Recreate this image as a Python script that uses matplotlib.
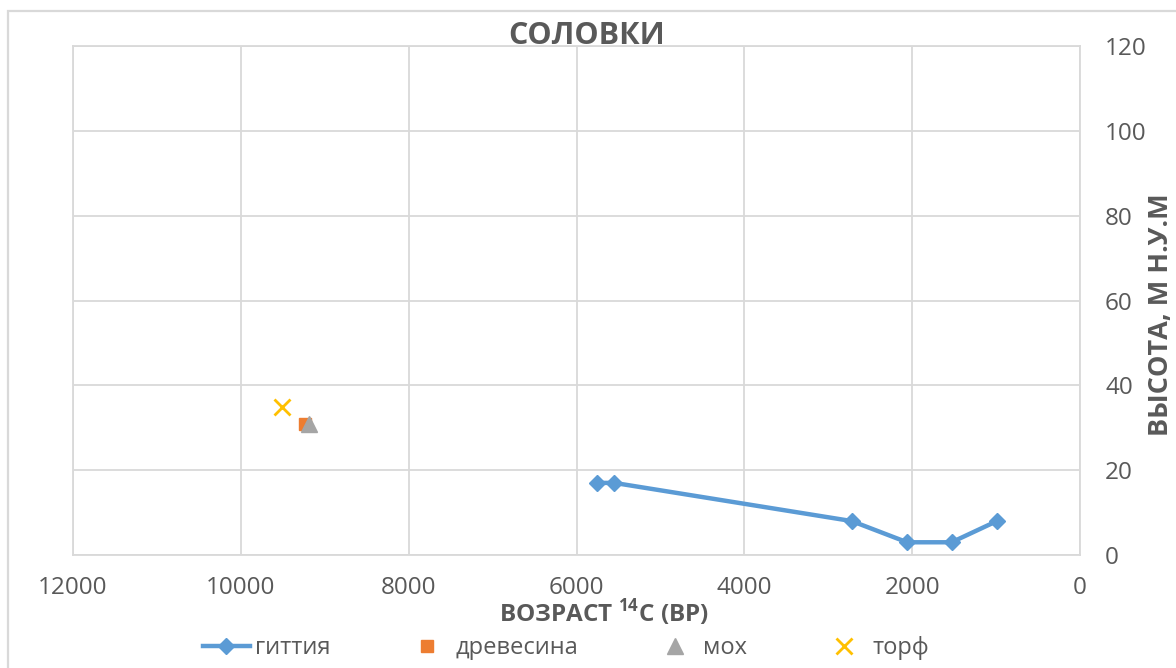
import matplotlib
matplotlib.use("Agg")
import matplotlib.pyplot as plt
from matplotlib.patches import Rectangle

# Radiocarbon ages (years BP) and elevations (m a.s.l.)
gyttja_age = [5760, 5550, 2720, 2060, 1530, 990]
gyttja_elev = [17, 17, 8, 3, 3, 8]
wood_age = [9230]
wood_elev = [31]
moss_age = [9190]
moss_elev = [31]
peat_age = [9510]
peat_elev = [35]

series_labels = ["гиттия", "древесина", "мох", "торф"]
x_ticks = [12000, 10000, 8000, 6000, 4000, 2000, 0]
y_ticks = [0, 20, 40, 60, 80, 100, 120]

TEXT = "#595959"
GRID = "#d9d9d9"
FONT = ["Open Sans", "DejaVu Sans"]

plt.rcParams["font.family"] = FONT
plt.rcParams["mathtext.fontset"] = "custom"
plt.rcParams["mathtext.rm"] = "Open Sans:bold"
plt.rcParams["mathtext.bf"] = "Open Sans:bold"

W, H = 1176, 668
fig = plt.figure(figsize=(W / 100, H / 100), dpi=100)

# chart-area frame
fig.add_artist(Rectangle((8 / W, -0.05), 1.2, 1 - 11 / H + 0.05,
                         transform=fig.transFigure, fill=False,
                         edgecolor=GRID, linewidth=1.6))

left, right, top, bottom = 73, 1080, 46, 555
ax = fig.add_axes([left / W, 1 - bottom / H, (right - left) / W, (bottom - top) / H])

ax.set_xlim(12000, 0)
ax.set_ylim(0, 120)
ax.set_xticks(x_ticks)
ax.set_yticks(y_ticks)
ax.grid(True, color=GRID, linewidth=1.3)
ax.set_axisbelow(True)
for s in ax.spines.values():
    s.set_color(GRID)
    s.set_linewidth(1.3)

ax.yaxis.tick_right()
ax.yaxis.set_label_position("right")
ax.tick_params(axis="both", length=0, labelcolor=TEXT, labelsize=17.5)
ax.tick_params(axis="y", pad=18)
ax.tick_params(axis="x", pad=15)

ax.plot(gyttja_age, gyttja_elev, color="#5B9BD5", linewidth=3.2,
        marker="D", markersize=8, label=series_labels[0], zorder=3)
ax.plot(wood_age, wood_elev, linestyle="none", marker="s", markersize=8,
        color="#ED7D31", label=series_labels[1], zorder=3)
ax.plot(moss_age, moss_elev, linestyle="none", marker="^", markersize=11,
        color="#A5A5A5", label=series_labels[2], zorder=4)
ax.plot(peat_age, peat_elev, linestyle="none", marker="x", markersize=11,
        markeredgewidth=2, color="#FFC000", label=series_labels[3], zorder=3)

fig.text(587 / W, 1 - 36 / H, "СОЛОВКИ", ha="center", va="center",
         fontsize=22, fontweight="bold", color=TEXT)
fig.text(604 / W, 1 - 613 / H, "ВОЗРАСТ $^{14}$С (ВР)", ha="center", va="center",
         fontsize=17.5, fontweight="bold", color=TEXT)
fig.text(1161 / W, 1 - 315 / H, "ВЫСОТА, М Н.У.М", ha="center", va="center",
         rotation=90, fontsize=19.5, fontweight="bold", color=TEXT)

leg = fig.legend(loc="center", bbox_to_anchor=(566 / W, 1 - 648 / H), ncol=4,
                 frameon=False, fontsize=17, handlelength=2.0,
                 handletextpad=0.2, columnspacing=3.1, labelcolor=TEXT)

fig.savefig("out.png", dpi=100)
